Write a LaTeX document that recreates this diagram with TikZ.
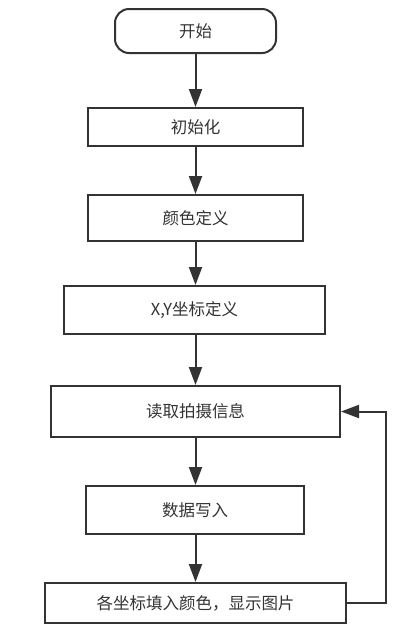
\documentclass[tikz,border=0pt]{standalone}
\usepackage{fontspec}
\newfontfamily\cjk{Noto Sans CJK SC}
\usetikzlibrary{arrows.meta}
\definecolor{viiva}{HTML}{333333}
\begin{document}
\begin{tikzpicture}[x=1pt,y=-1pt,
  laatikko/.style={draw=viiva,line width=2pt,inner sep=0pt,text=viiva,
    font=\cjk\fontsize{16.5}{18}\selectfont},
  nuoli/.style={draw=viiva,line width=2pt,-{Triangle[length=18pt,width=13pt]}}]
\useasboundingbox (0,0) rectangle (401,641);
\node[laatikko,rounded corners=14pt,minimum width=161pt,minimum height=44pt] (alku) at (195.5,31) {开始};
\node[laatikko,minimum width=215pt,minimum height=38pt] (init) at (195.5,127) {初始化};
\node[laatikko,minimum width=215pt,minimum height=46pt] (vari) at (195.5,218) {颜色定义};
\node[laatikko,minimum width=261pt,minimum height=48pt] (xy) at (194.5,310) {X,Y坐标定义};
\node[laatikko,minimum width=289pt,minimum height=51pt] (luku) at (195.5,411.5) {读取拍摄信息};
\node[laatikko,minimum width=218pt,minimum height=48pt] (kirj) at (195,510) {数据写入};
\node[laatikko,minimum width=301pt,minimum height=40pt] (nayta) at (195.5,603) {各坐标填入颜色，显示图片};
\coordinate (paluu) at (386,603);
\path[nuoli] (alku) -- (init);
\path[nuoli] (init) -- (vari);
\path[nuoli] (vari) -- (xy.north -| vari);
\path[nuoli] (xy.south -| vari) -- (luku);
\path[nuoli] (luku) -- (kirj.north -| luku);
\path[nuoli] (kirj.south -| luku) -- (nayta);
\path[nuoli] (nayta.east) -- (paluu) |- (luku.east);
\end{tikzpicture}
\end{document}
